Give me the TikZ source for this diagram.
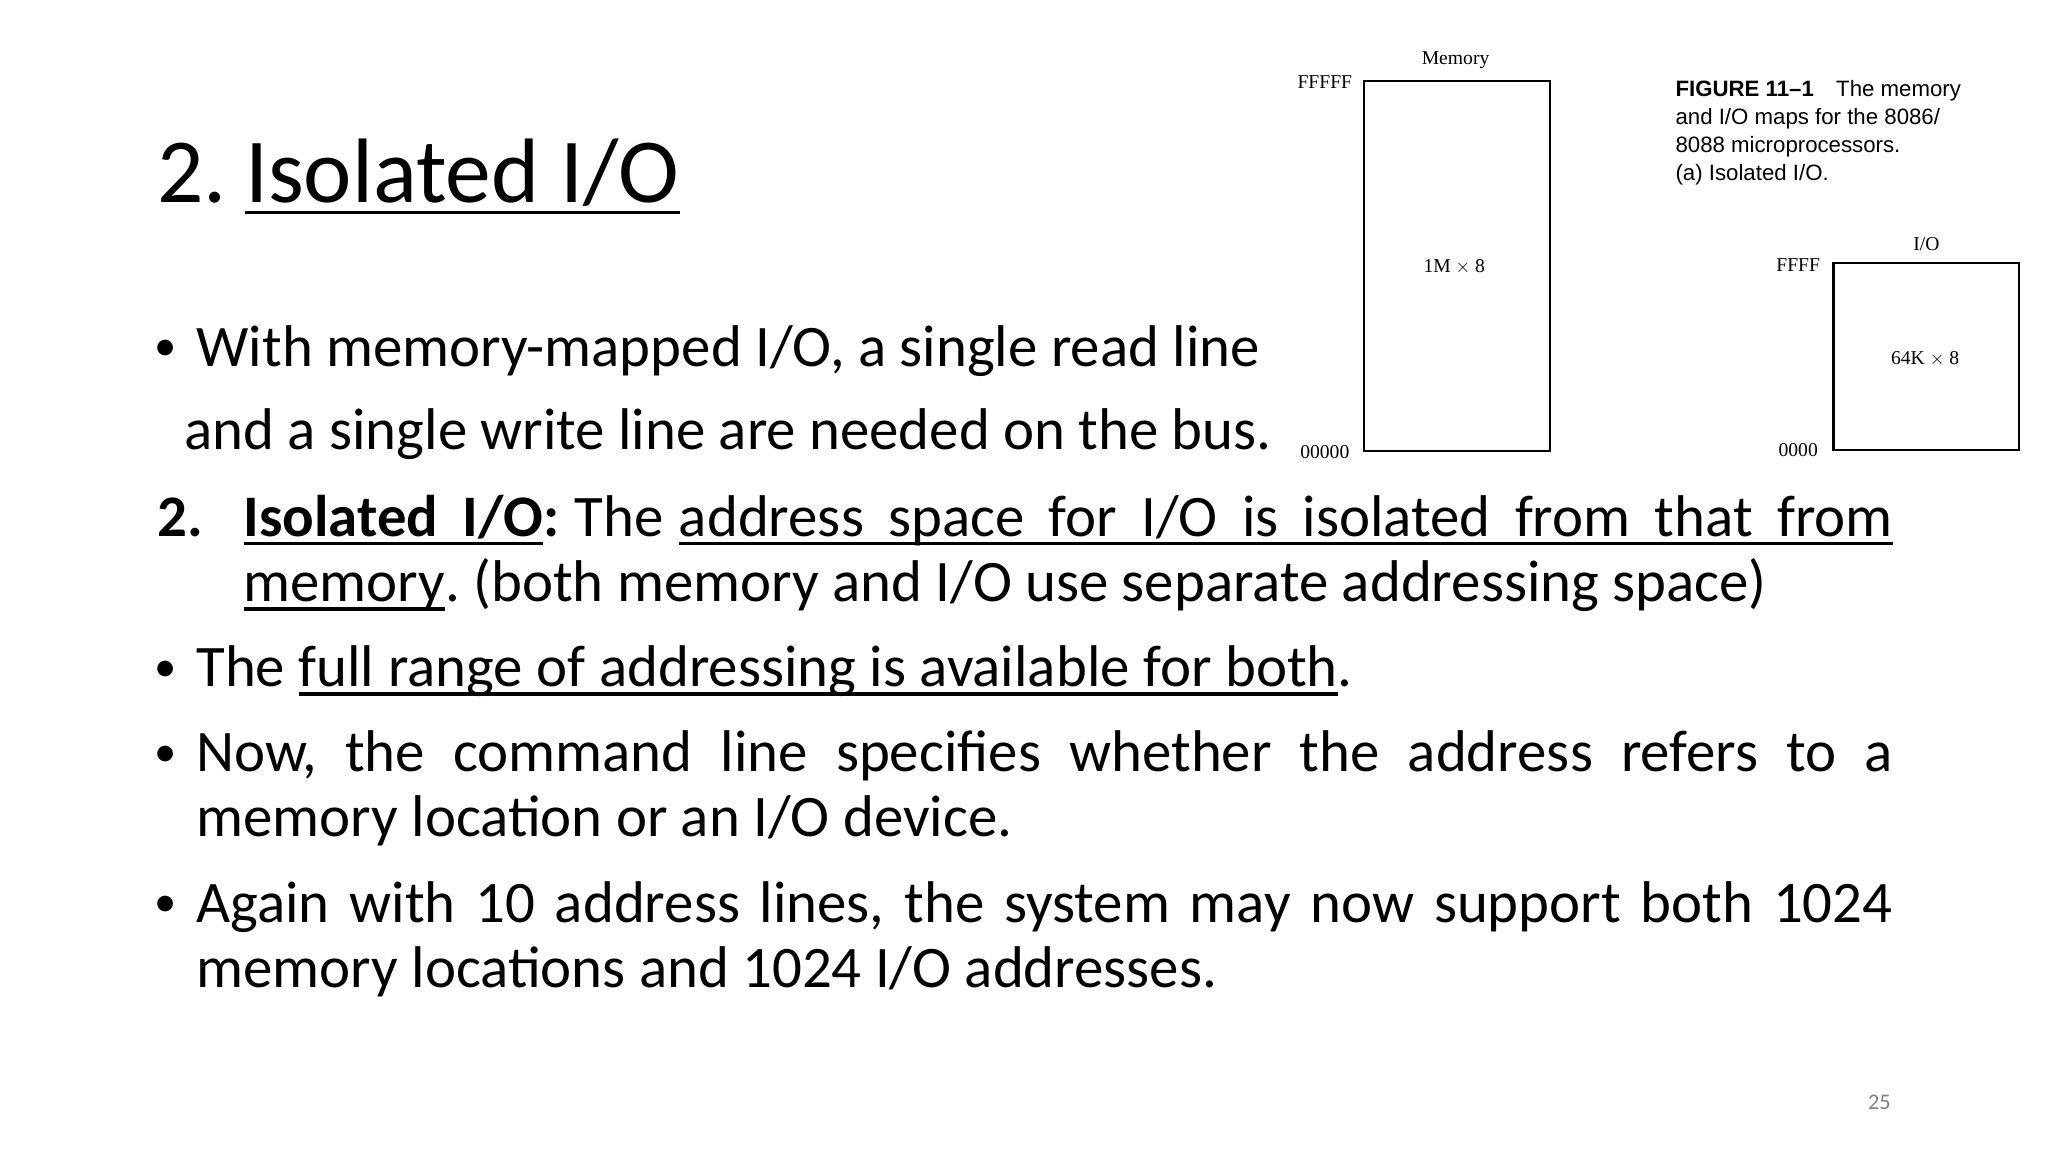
\documentclass[tikz,border=0pt]{standalone}
\usepackage{fontspec}
\setmainfont{Carlito}
\newfontfamily\figserif{Liberation Serif}
\newfontfamily\figsans{Liberation Sans}
\newdimen\ulhgt \newdimen\uldep
\ulhgt=-4.5pt \uldep=7pt
\def\ulw#1{\setbox0\hbox{#1}\rlap{\vrule height\ulhgt depth\uldep width\wd0}\box0}
\def\uls{\leaders\hrule height\ulhgt depth\uldep\hskip 0.23em plus 0.6em minus 0.1em\relax}
\frenchspacing
\begin{document}
\begin{tikzpicture}[x=1pt,y=-1pt,
  body/.style={inner sep=0pt,anchor=base west,font=\fontsize{45}{50}\selectfont},
  dot/.style={inner sep=0pt,anchor=base west,font=\fontsize{34}{34}\selectfont},
  lab/.style={inner sep=0pt,font=\figserif\fontsize{15}{15}\selectfont},
  box/.style={draw,line width=1.8pt}]
\useasboundingbox (0,0) rectangle (1566,881);
\node[inner sep=0pt,anchor=base west,font=\fontsize{70}{70}\selectfont] (title) at (120,155) {\ulhgt=-6pt\uldep=8.5pt 2.\hskip 14pt\ulw{Isolated}\uls\ulw{I/O}};
\node[dot] (d1) at (118,276) {\textbullet};
\node[body] (b1a) at (150,280) {With memory-mapped I/O, a single read line};
\node[body] (b1b) at (141,344) {and a single write line are needed on the bus.};
\node[body] (n2) at (120,410) {\textbf{2.}};
\node[body] (b2a) at (186,410) {\hbox to 1261pt{\textbf{\ulw{Isolated}\uls\ulw{I/O}:} The \ulw{address}\uls\ulw{space}\uls\ulw{for}\uls\ulw{I/O}\uls\ulw{is}\uls\ulw{isolated}\uls\ulw{from}\uls\ulw{that}\uls\ulw{from}}};
\node[body] (b2b) at (186,460) {\ulw{memory}. (both memory and I/O use separate addressing space)};
\node[dot] (d3) at (118,521) {\textbullet};
\node[body] (b3) at (150,525) {The \ulw{full}\uls\ulw{range}\uls\ulw{of}\uls\ulw{addressing}\uls\ulw{is}\uls\ulw{available}\uls\ulw{for}\uls\ulw{both}.};
\node[dot] (d4) at (118,586) {\textbullet};
\node[body] (b4a) at (150,590) {\hbox to 1297pt{Now, the command line specifies whether the address refers to a}};
\node[body] (b4b) at (150,640) {memory location or an I/O device.};
\node[dot] (d5) at (118,701) {\textbullet};
\node[body] (b5a) at (150,705) {\hbox to 1297pt{Again with 10 address lines, the system may now support both 1024}};
\node[body] (b5b) at (150,755) {memory locations and 1024 I/O addresses.};
% figure
\draw[box] (1043,62) rectangle (1185,345);
\draw[box] (1402,201) rectangle (1544,344);
\node[lab] (mem) at (1113,46) {Memory};
\node[lab] (m1) at (1112,204) {1M $\times$ 8};
\node[lab] (mf) at (1013,63) {FFFFF};
\node[lab] (m0) at (1013,346) {00000};
\node[lab] (io) at (1473,187) {I/O};
\node[lab] (i1) at (1472,274) {64K $\times$ 8};
\node[lab] (if) at (1375,203) {FFFF};
\node[lab] (i0) at (1375,344) {0000};
\node[inner sep=0pt,anchor=north west,align=left,font=\figsans\fontsize{17}{21.5}\selectfont] (cap) at (1281,61)
 {\textbf{FIGURE 11–1}\quad The memory\\and I/O maps for the 8086/\\8088 microprocessors.\\(a) Isolated I/O.};
\node[inner sep=0pt,text=gray,font=\fontsize{17}{17}\selectfont] (pg) at (1437,843) {25};
\end{tikzpicture}
\end{document}
